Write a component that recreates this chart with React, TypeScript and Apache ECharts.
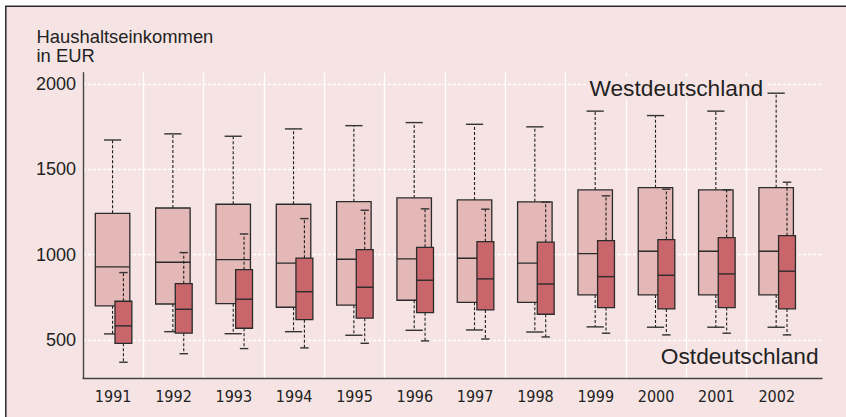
import React, { useEffect, useRef } from "react";
import * as echarts from "echarts";

const years = ["1991", "1992", "1993", "1994", "1995", "1996", "1997", "1998", "1999", "2000", "2001", "2002"];

const westLow = [536, 549, 537, 549, 528, 557, 559, 547, 577, 575, 575, 575];
const westQ1 = [700, 711, 713, 692, 704, 733, 721, 721, 764, 764, 764, 764];
const westMed = [928, 955, 971, 950, 973, 975, 979, 950, 1006, 1020, 1020, 1020];
const westQ3 = [1242, 1273, 1295, 1295, 1310, 1332, 1320, 1309, 1379, 1392, 1379, 1392];
const westHigh = [1671, 1707, 1693, 1736, 1755, 1773, 1763, 1748, 1840, 1814, 1840, 1945];

const eastLow = [370, 420, 450, 454, 481, 495, 506, 518, 540, 530, 540, 530];
const eastQ1 = [481, 540, 569, 619, 628, 660, 676, 651, 690, 682, 690, 682];
const eastMed = [583, 680, 739, 783, 809, 850, 858, 828, 871, 879, 887, 903];
const eastQ3 = [727, 830, 912, 979, 1029, 1043, 1076, 1073, 1082, 1088, 1100, 1111];
const eastHigh = [895, 1012, 1121, 1211, 1260, 1268, 1266, 1307, 1344, 1383, 1379, 1424];

const yTicks = [500, 1000, 1500, 2000];
const titleLines = ["Haushaltseinkommen", "in EUR"];
const westLabel = "Westdeutschland";
const eastLabel = "Ostdeutschland";

const Y_MIN = 276;
const Y_MAX = 2065;
const X_EXTENT = 12.25;

const PINK = "#f6e4e4";
const WEST_FILL = "#e4b8b6";
const EAST_FILL = "#c8666b";
const DARK = "#2b2b2b";
const FONT = "'Liberation Sans', Arial, sans-serif";

const GRID_LEFT = 83;
const GRID_RIGHT_EDGE = 822;
const GRID_TOP = 72.7;
const GRID_BOTTOM = 38.7;

function buildData(lo: number[], q1: number[], med: number[], q3: number[], hi: number[]) {
  return years.map((_, i) => [i, lo[i], q1[i], med[i], q3[i], hi[i]]);
}

function makeRender(offset: number, widthFrac: number, fill: string) {
  return (params: any, api: any) => {
    const idx = api.value(0);
    const band = api.size([1, 0])[0];
    const c = api.coord([idx, api.value(3)]);
    const cx = c[0] + offset * band;
    const w = widthFrac * band;
    const yLo = api.coord([idx, api.value(1)])[1];
    const yQ1 = api.coord([idx, api.value(2)])[1];
    const yMed = c[1];
    const yQ3 = api.coord([idx, api.value(4)])[1];
    const yHi = api.coord([idx, api.value(5)])[1];
    const dash = { stroke: "#1e1e1e", lineWidth: 1.1, lineDash: [3, 2] };
    const cap = { stroke: "#333", lineWidth: 1.4 };
    return {
      type: "group",
      children: [
        { type: "line", shape: { x1: cx, y1: yQ3, x2: cx, y2: yHi }, style: dash },
        { type: "line", shape: { x1: cx, y1: yQ1, x2: cx, y2: yLo }, style: dash },
        { type: "line", shape: { x1: cx - w / 4, y1: yHi, x2: cx + w / 4, y2: yHi }, style: cap },
        { type: "line", shape: { x1: cx - w / 4, y1: yLo, x2: cx + w / 4, y2: yLo }, style: cap },
        {
          type: "rect",
          shape: { x: cx - w / 2, y: yQ3, width: w, height: yQ1 - yQ3 },
          style: { fill, stroke: DARK, lineWidth: 1.3 },
        },
        { type: "line", shape: { x1: cx - w / 2, y1: yMed, x2: cx + w / 2, y2: yMed }, style: { stroke: DARK, lineWidth: 1.4 } },
      ],
    };
  };
}

export default function App() {
  const ref = useRef<HTMLDivElement>(null);
  useEffect(() => {
    if (!ref.current) return;
    const chart = echarts.init(ref.current, undefined, { renderer: "svg" });
    const gridWidth = GRID_RIGHT_EDGE - GRID_LEFT;
    const xSplitColors: string[] = [];
    for (let i = 0; i <= 13; i++) xSplitColors.push(i === 0 || i >= 12 ? "rgba(0,0,0,0)" : "#ffffff");
    const ySplitColors = ["rgba(0,0,0,0)", "#ffffff", "#ffffff", "#ffffff", "#ffffff", "rgba(0,0,0,0)"];
    chart.setOption({
      animation: false,
      backgroundColor: "#ffffff",
      textStyle: { fontFamily: FONT },
      grid: [
        { left: GRID_LEFT, width: gridWidth, top: GRID_TOP, bottom: GRID_BOTTOM },
        { left: GRID_LEFT, width: (gridWidth * 12) / X_EXTENT, top: GRID_TOP, bottom: GRID_BOTTOM },
      ],
      xAxis: [
        {
          type: "value",
          gridIndex: 0,
          min: 0,
          max: X_EXTENT,
          interval: 1,
          axisLine: { show: true, lineStyle: { color: "#444", width: 1.4 } },
          axisTick: { show: false },
          axisLabel: { show: false },
          splitLine: { show: true, lineStyle: { color: xSplitColors, width: 1.3, type: "solid" } },
        },
        {
          type: "category",
          gridIndex: 1,
          data: years,
          axisLine: { show: false },
          axisTick: { show: false },
          splitLine: { show: false },
          axisLabel: {
            color: "#222",
            fontSize: 16,
            margin: 10,
            fontFamily: "'Liberation Sans Narrow', 'Arial Narrow', 'DejaVu Sans Condensed', sans-serif",
          },
        },
      ],
      yAxis: [
        {
          type: "value",
          gridIndex: 0,
          min: Y_MIN,
          max: Y_MAX,
          splitNumber: 4,
          minInterval: 500,
          maxInterval: 500,
          axisLine: { show: true, lineStyle: { color: "#444", width: 1.4 } },
          axisTick: { show: false },
          axisLabel: {
            color: "#222",
            fontSize: 18,
            margin: 7,
            fontFamily: FONT,
            formatter: (v: number) => (yTicks.indexOf(v) >= 0 ? String(v) : ""),
          },
          splitLine: { show: true, lineStyle: { color: ySplitColors, width: 1.3, type: [3, 2] } },
        },
        { type: "value", gridIndex: 1, min: Y_MIN, max: Y_MAX, show: false },
      ],
      graphic: [
        { type: "rect", z: -10, silent: true, shape: { x: 5, y: 6, width: 841, height: 411 }, style: { fill: PINK } },
        {
          type: "polyline",
          z: 10,
          silent: true,
          shape: { points: [[5.8, 417], [5.8, 6.3], [846, 6.3]] },
          style: { stroke: "#2a2a2a", lineWidth: 1.5, fill: "none" },
        },
        {
          type: "text",
          x: 36.5,
          y: 36.5,
          style: { text: titleLines[0], fill: "#222", fontSize: 18.4, fontFamily: FONT, verticalAlign: "middle", align: "left" },
        },
        {
          type: "text",
          x: 36.5,
          y: 55.5,
          style: { text: titleLines[1], fill: "#222", fontSize: 18.4, fontFamily: FONT, verticalAlign: "middle", align: "left" },
        },
        {
          type: "text",
          x: 586.5,
          y: 88,
          z: 10,
          style: {
            text: westLabel,
            fill: "#222",
            fontSize: 22.7,
            fontFamily: FONT,
            verticalAlign: "middle",
            align: "left",
            backgroundColor: PINK,
            padding: [0, 3, 0, 3],
          },
        },
        {
          type: "text",
          x: 818.5,
          y: 355.5,
          z: 10,
          style: { text: eastLabel, fill: "#222", fontSize: 22.7, fontFamily: FONT, verticalAlign: "middle", align: "right" },
        },
      ],
      series: [
        {
          name: westLabel,
          type: "custom",
          xAxisIndex: 1,
          yAxisIndex: 1,
          renderItem: makeRender(-0.01, 0.572, WEST_FILL),
          encode: { x: 0, y: [1, 2, 3, 4, 5] },
          data: buildData(westLow, westQ1, westMed, westQ3, westHigh),
          clip: false,
        },
        {
          name: eastLabel,
          type: "custom",
          xAxisIndex: 1,
          yAxisIndex: 1,
          renderItem: makeRender(0.17, 0.28, EAST_FILL),
          encode: { x: 0, y: [1, 2, 3, 4, 5] },
          data: buildData(eastLow, eastQ1, eastMed, eastQ3, eastHigh),
          clip: false,
        },
      ],
    });
    return () => chart.dispose();
  }, []);
  return (
    <div style={{ position: "fixed", left: 0, top: 0, width: 846, height: 417 }}>
      <div ref={ref} style={{ width: 846, height: 417 }} />
    </div>
  );
}
